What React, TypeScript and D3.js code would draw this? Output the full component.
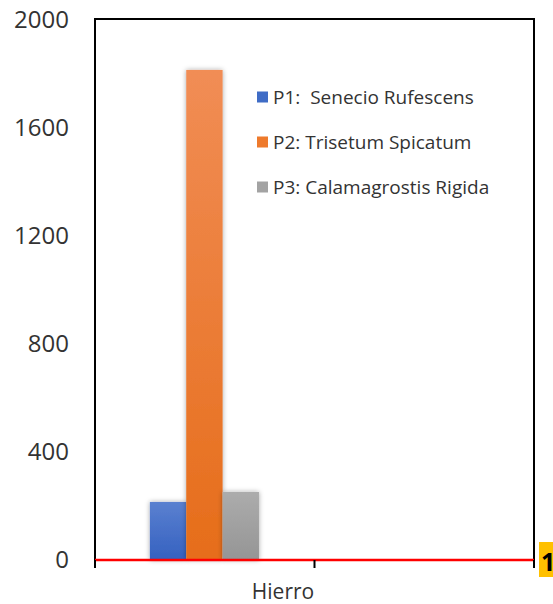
import React from "react";
import * as d3 from "d3";

const categories = ["Hierro", ""];
const seriesNames = ["P1:  Senecio Rufescens", "P2: Trisetum Spicatum", "P3: Calamagrostis Rigida"];
const seriesValues = [215, 1815, 252];
const yTicks = [0, 400, 800, 1200, 1600, 2000];
const colorsTop = ["#5a80d0", "#f18d55", "#acacac"];
const colorsBottom = ["#3561c0", "#e66d1a", "#959595"];
const legendColors = ["#3f6cc6", "#ee7a2c", "#a3a3a3"];

const W = 553, H = 604;
const left = 95, right = 534, top = 20, bottom = 560;

export default function App() {
  const y = d3.scaleLinear().domain([0, 2000]).range([bottom, top]);
  const xOuter = d3.scaleBand().domain(categories).range([left, right]).padding(0);
  const bw = xOuter.bandwidth();
  const x0 = xOuter(categories[0]) as number;
  const xInner = d3.scaleBand().domain(seriesNames).range([x0 + bw * 0.25, x0 + bw * 0.747]).padding(0);
  const tickXs = [left, left + bw, right];
  const font = "'Open Sans', 'Liberation Sans', sans-serif";

  return (
    <svg width={W} height={H} style={{ position: "absolute", left: 0, top: 0, background: "#fff" }}>
      <defs>
        {seriesNames.map((s, i) => (
          <linearGradient key={i} id={`g${i}`} x1="0" y1="0" x2="0" y2="1">
            <stop offset="0%" stopColor={colorsTop[i]} />
            <stop offset="100%" stopColor={colorsBottom[i]} />
          </linearGradient>
        ))}
        <filter id="sh" x="-30%" y="-10%" width="160%" height="120%">
          <feDropShadow dx="0" dy="0" stdDeviation="2.5" floodColor="#000" floodOpacity="0.35" />
        </filter>
      </defs>
      <rect x={left} y={top - 1} width={right - left} height={bottom - top + 1} fill="#fff" stroke="#000" strokeWidth={2} />
      {seriesNames.map((s, i) => (
        <rect key={s} x={xInner(s) as number} y={y(seriesValues[i])} width={xInner.bandwidth()}
          height={y(0) - y(seriesValues[i])} fill={`url(#g${i})`} filter="url(#sh)" />
      ))}
      <line x1={left} x2={right} y1={bottom} y2={bottom} stroke="#ff0000" strokeWidth={2.5} />
      {tickXs.map((t, i) => (
        <line key={i} x1={t} x2={t} y1={bottom} y2={bottom + 8} stroke="#000" strokeWidth={2} />
      ))}
      {yTicks.map(t => (
        <text key={t} x={69} y={y(t)} dy="0.35em" textAnchor="end" fontFamily={font} fontSize={24} fill="#333">{t}</text>
      ))}
      <text x={283} y={592} dy="0.35em" textAnchor="middle" fontFamily={font} fontSize={21} fill="#333">{categories[0]}</text>
      {seriesNames.map((s, i) => (
        <g key={s} transform={`translate(257, ${97 + i * 45})`}>
          <rect x={0} y={-5.5} width={11} height={11} fill={legendColors[i]} />
          <text x={16} y={0} dy="0.35em" fontFamily={font} fontSize={19} fill="#333" style={{ whiteSpace: "pre" }}>{s}</text>
        </g>
      ))}
      <rect x={539} y={542} width={20} height={35} fill="#ffc000" />
      <text x={541} y={571} fontFamily={font} fontWeight="bold" fontSize={25} fill="#000">1</text>
    </svg>
  );
}
